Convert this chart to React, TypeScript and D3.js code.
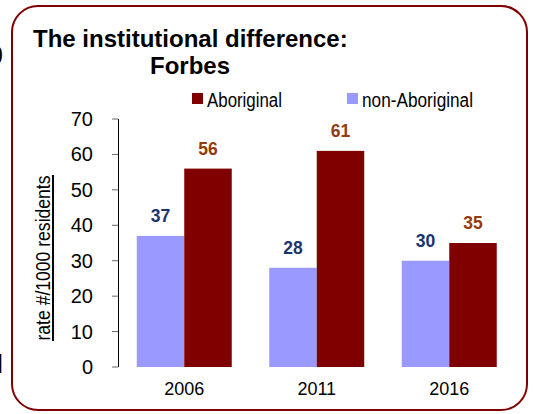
import React from "react";
import * as d3 from "d3";

const categories = ["2006", "2011", "2016"];
const seriesNames = ["non-Aboriginal", "Aboriginal"];
const nonAboriginal = [37, 28, 30];
const aboriginal = [56, 61, 35];
const yTicks = [0, 10, 20, 30, 40, 50, 60, 70];

const W = 535;
const H = 414;
const LIGHT = "#9999FF";
const DARK = "#800000";
const NAVY = "#1B3470";
const BROWN = "#953B10";

export default function App() {
  const x = d3.scaleBand<string>().domain(categories).range([118, 515.5]).paddingInner(0.283).paddingOuter(0.1415);
  const xs = d3.scaleBand<string>().domain(seriesNames).range([0, x.bandwidth()]);
  const y = d3.scaleLinear().domain([0, 70]).range([367, 119]);
  const series = [
    { name: "non-Aboriginal", values: nonAboriginal, fill: LIGHT, label: NAVY },
    { name: "Aboriginal", values: aboriginal, fill: DARK, label: BROWN },
  ];
  const font = "'Liberation Sans', Arial, sans-serif";
  return (
    <svg width={W} height={H} style={{ position: "absolute", left: 0, top: 0, background: "#fff" }} fontFamily={font}>
      <rect x={0} y={0} width={W} height={H} fill="#fff" />
      {/* neighbouring fragments */}
      <text x={3} y={64} textAnchor="end" fontSize={25} fill="#000">0</text>
      <text x={3} y={373} textAnchor="end" fontSize={26} fill="#000">d</text>
      <rect x={12} y={6} width={515} height={404} rx={26} ry={26} fill="#fff" stroke={DARK} strokeWidth={2} />
      {/* title */}
      <text x={33} y={47} fontSize={24} fontWeight="bold" fill="#000">The institutional difference:</text>
      <text x={190} y={74} fontSize={24} fontWeight="bold" textAnchor="middle" fill="#000">Forbes</text>
      {/* legend */}
      <rect x={192} y={93} width={11} height={11} fill={DARK} />
      <text x={207} y={107} fontSize={20} textLength={75} lengthAdjust="spacingAndGlyphs" fill="#000">Aboriginal</text>
      <rect x={347} y={93} width={11} height={11} fill={LIGHT} />
      <text x={362} y={107} fontSize={20} textLength={111} lengthAdjust="spacingAndGlyphs" fill="#000">non-Aboriginal</text>
      {/* y axis */}
      {yTicks.map((t) => (
        <g key={t}>
          <line x1={112} x2={118} y1={y(t)} y2={y(t)} stroke="#666" strokeWidth={1} />
          <text x={93} y={y(t) + 7} textAnchor="end" fontSize={20} fill="#000">{t}</text>
        </g>
      ))}
      <line x1={118.5} x2={118.5} y1={y(70)} y2={y(0)} stroke="#000" strokeWidth={1} />
      {/* y title */}
      <g transform={`translate(50, 258) rotate(-90)`}>
        <text x={0} y={0} textAnchor="middle" fontSize={20} textLength={165} lengthAdjust="spacingAndGlyphs" fill="#000">rate #/1000 residents</text>
      </g>
      <line x1={53} x2={53} y1={175} y2={341} stroke="#000" strokeWidth={2} />
      {/* bars */}
      {categories.map((c, i) => (
        <g key={c}>
          {series.map((s) => {
            const bx = (x(c) ?? 0) + (xs(s.name) ?? 0);
            const v = s.values[i];
            return (
              <g key={s.name}>
                <rect x={bx} y={y(v)} width={xs.bandwidth()} height={y(0) - y(v)} fill={s.fill} />
                <text x={bx + xs.bandwidth() / 2} y={y(v) - 14} textAnchor="middle" fontSize={17.5} fontWeight="bold" fill={s.label}>{v}</text>
              </g>
            );
          })}
          <text x={(x(c) ?? 0) + x.bandwidth() / 2} y={395} textAnchor="middle" fontSize={18} fill="#000">{c}</text>
        </g>
      ))}
    </svg>
  );
}
